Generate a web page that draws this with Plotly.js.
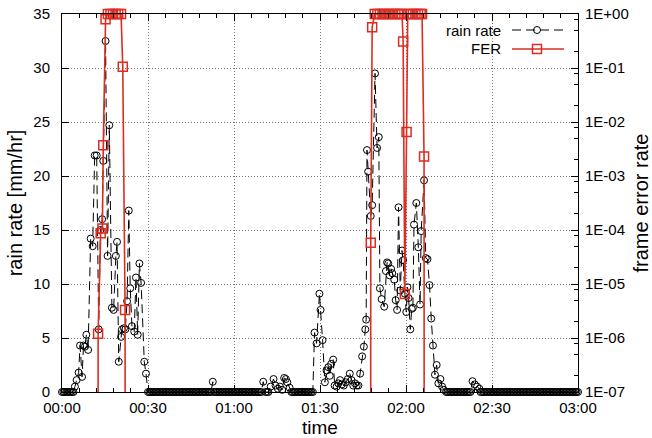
<!DOCTYPE html>
<html>
<head>
<meta charset="utf-8">
<script src="https://cdn.plot.ly/plotly-3.0.1.min.js"></script>
<style>html,body{margin:0;padding:0;background:#fff;}#chart{width:652px;height:438px;}</style>
</head>
<body>
<div id="chart"></div>
<script>
// ---- data (time in minutes after 00:00) ----
const rainTime = [
  0,0.5,1,1.5,2,2.5,3,3.5,4,
  4.5,5.1,5.8,6.3,7.0,7.5,8.0,8.5,9.1,10.0,
  10.7,11.4,12.1,12.8,13.4,14.0,14.4,15.2,15.9,16.5,
  17.4,18.0,18.8,19.2,19.8,20.6,20.9,21.6,22.1,22.7,
  23.3,23.8,24.4,25.2,25.8,26.4,27.0,27.6,28.7,29.3,
  30,30.5,31,31.5,32,32.5,33,33.5,34,34.5,
  35,35.5,36,36.5,37,37.5,38,38.5,39,39.5,
  40,40.5,41,41.5,42,42.5,43,43.5,44,44.5,
  45,45.5,46,46.5,47,47.5,48,48.5,49,49.5,
  50,50.5,51,51.5,52,52.6,
  53,53.5,54,54.5,55,55.5,56,56.5,57,57.5,
  58,58.5,59,59.5,60,60.5,61,61.5,62,62.5,
  63,63.5,64,64.5,65,65.5,66,66.5,67,67.5,
  68,68.5,69,69.5,70.2,71,71.5,72,
  72.8,73.8,74.5,75.3,76.0,76.8,77.5,78.1,78.6,79.4,
  80,80.5,81,81.5,82,82.5,83,83.5,84,84.5,
  85,85.5,86,86.5,87,87.5,
  88.1,88.8,89.8,90.2,90.9,91.7,92.3,92.9,93.4,93.9,
  94.6,95.1,95.8,96.4,97.0,97.6,98.3,99.0,99.7,100.4,
  101.0,101.6,102.2,102.8,
  103.4,104.0,104.7,105.3,105.8,106.1,106.4,106.8,107.7,108.2,
  109.2,109.9,110.5,110.9,111.5,112.4,113.0,113.4,113.8,114.3,
  114.8,115.2,115.9,116.4,116.9,117.4,118.0,118.6,119.0,119.6,
  120.1,120.5,120.9,121.5,122.0,122.4,122.8,123.6,124.3,124.9,
  125.3,126.3,126.9,127.5,128.2,128.8,129.4,130.1,130.7,131.3,
  132.0,132.6,133.2,
  134,134.5,135,135.5,136,136.5,137,137.5,138,138.5,
  139,139.5,140,140.5,141,141.5,142,142.5,
  143.2,144.0,144.8,145.6,
  146,146.5,147,147.5,148,148.5,149,149.5,150,150.5,
  151,151.5,152,152.5,153,153.5,154,154.5,155,155.5,
  156,156.5,157,157.5,158,158.5,159,159.5,160,160.5,
  161,161.5,162,162.5,163,163.5,164,164.5,165,165.5,
  166,166.5,167,167.5,168,168.5,169,169.5,170,170.5,
  171,171.5,172,172.5,173,173.5,174,174.5,175,175.5,
  176,176.5,177,177.5,178,178.5,179,179.5,180];
const rainRate = [
  0,0,0,0,0,0,0,0,0,
  0.5,1.1,1.8,4.3,1.4,4.3,4.2,5.3,3.9,14.2,
  13.5,21.9,21.9,5.8,15.0,16.0,21.4,32.5,12.6,24.7,
  7.8,7.6,12.6,13.9,2.8,5.1,5.8,5.9,5.8,8.4,
  16.8,9.6,6.1,5.6,10.6,5.3,11.9,10.1,2.8,1.7,
  0,0,0,0,0,0,0,0,0,0,
  0,0,0,0,0,0,0,0,0,0,
  0,0,0,0,0,0,0,0,0,0,
  0,0,0,0,0,0,0,0,0,0,
  0,0,0,0,0,0.95,
  0,0,0,0,0,0,0,0,0,0,
  0,0,0,0,0,0,0,0,0,0,
  0,0,0,0,0,0,0,0,0,0,
  0,0,0,0,0.95,0,0,0,
  0.5,1.2,0.6,0.3,0.5,0.2,1.3,1.2,0.9,0.4,
  0,0,0,0,0,0,0,0,0,0,
  0,0,0,0,0,0,
  5.5,4.5,9.1,7.6,4.8,0.9,2.0,2.3,1.5,2.6,
  3.0,0.6,0.5,0.8,1.1,0.7,0.6,0.9,1.2,1.7,
  1.1,0.6,0.8,0.6,
  0.6,1.7,3.3,4.2,5.8,6.7,22.4,20.4,16.3,17.3,
  29.5,22.6,23.6,9.6,8.6,7.9,11.2,12.0,11.9,10.8,
  11.4,11.0,10.4,8.5,7.6,17.1,9.4,13.1,12.2,9.1,
  7.4,9.7,8.7,5.8,7.7,7.8,15.5,17.5,13.4,8.1,
  14.9,19.6,12.4,12.3,9.9,6.8,4.3,1.6,2.5,0.8,
  1.2,0.5,0.2,
  0,0,0,0,0,0,0,0,0,0,
  0,0,0,0,0,0,0,0,
  1.0,0.7,0.5,0.3,
  0,0,0,0,0,0,0,0,0,0,
  0,0,0,0,0,0,0,0,0,0,
  0,0,0,0,0,0,0,0,0,0,
  0,0,0,0,0,0,0,0,0,0,
  0,0,0,0,0,0,0,0,0,0,
  0,0,0,0,0,0,0,0,0,0,
  0,0,0,0,0,0,0,0,0];

// frame error rate (0 = no errors, below the plotted range)
const ferTime = [0,12.5,12.6,13.5,14.1,14.4,15.2,16.0,16.9,17.8,18.7,19.6,20.6,21.2,22.0,22.3,
  107.6,107.7,108.2,109.1,110.0,110.9,111.8,112.7,113.6,114.5,115.4,116.3,117.2,118.1,118.6,
  119.0,119.6,120.2,120.6,121.5,122.4,123.3,124.2,125.1,125.6,126.3,126.5,180];
const ferValue = [0,0,1.2e-6,8.7e-5,1.07e-4,3.7e-3,0.8,1,1,1,1,1,1,0.105,3.3e-6,0,
  0,5.8e-5,0.57,1,1,1,1,1,1,1,1,1,1,1,1,
  0.31,6.5e-6,6.5e-3,1,1,1,1,1,1,1,2.3e-3,0,0];

const xTickVals = [0,30,60,90,120,150,180];
const xTickText = ['00:00','00:30','01:00','01:30','02:00','02:30','03:00'];
const ferTickVals = [1e-7,1e-6,1e-5,1e-4,1e-3,1e-2,1e-1,1];
const ferTickText = ['1E-07','1E-06','1E-05','1E-04','1E-03','1E-02','1E-01','1E+00'];

// ---- drawing ----
const FER_ZERO = 1e-30; // zero FER drawn below the log axis
const RED = '#dd2c22';
const ferMinor = [];
for (let e = -7; e < 0; e++) { [2,5,8].forEach(m => ferMinor.push(m * Math.pow(10, e))); }

const traces = [
  {x: rainTime, y: rainRate, type: 'scatter', mode: 'lines+markers', name: 'rain rate',
   cliponaxis: false,
   line: {color: 'black', width: 1, dash: '9px,5px'},
   marker: {symbol: 'circle-open', size: 7, color: 'black', line: {width: 1, color: 'black'}}},
  {x: ferTime, y: ferValue.map(v => v > 0 ? v : FER_ZERO), yaxis: 'y2', type: 'scatter',
   mode: 'lines+markers', name: 'FER', cliponaxis: false,
   line: {color: RED, width: 1.6},
   marker: {symbol: 'square-open', size: 9, color: RED, line: {width: 1.5, color: RED}}}
];

const FONT = 'Liberation Sans, Arial, sans-serif';
const legX0 = (512 - 62) / 516, legX1 = (564 - 62) / 516, legXm = (537 - 62) / 516;
const legY1 = (392 - 30) / 378, legY2 = (392 - 49) / 378, legTxt = (503 - 62) / 516;
const GRID = {showgrid: true, gridcolor: '#777', griddash: '1px,2px', gridwidth: 1};

const layout = {
  width: 652, height: 438,
  margin: {l: 62, r: 74, t: 14, b: 46, pad: 0},
  paper_bgcolor: 'white', plot_bgcolor: 'white',
  font: {family: FONT, size: 15, color: 'black'},
  showlegend: false,
  xaxis: Object.assign({range: [0, 180], tickmode: 'array', tickvals: xTickVals, ticktext: xTickText,
    ticks: 'inside', ticklen: 7, tickcolor: 'black', ticklabelstandoff: 2,
    showline: true, linecolor: 'black', linewidth: 1, mirror: 'ticks', zeroline: false,
    minor: {dtick: 6, tick0: 0, ticks: 'inside', ticklen: 4, tickcolor: 'black', showgrid: false},
    title: {text: 'time', font: {size: 19}, standoff: 7}}, GRID),
  yaxis: Object.assign({range: [0, 35], tick0: 0, dtick: 5, ticks: 'inside', ticklen: 7, tickcolor: 'black',
    ticklabelstandoff: 8,
    showline: true, linecolor: 'black', linewidth: 1, mirror: false, zeroline: false,
    title: {text: 'rain rate [mm/hr]', font: {size: 20}, standoff: 5}}, GRID),
  yaxis2: {type: 'log', range: [-7, 0], overlaying: 'y', side: 'right',
    tickmode: 'array', tickvals: ferTickVals, ticktext: ferTickText,
    ticks: 'inside', ticklen: 7, tickcolor: 'black', ticklabelstandoff: 3,
    showline: true, linecolor: 'black', linewidth: 1, showgrid: false, zeroline: false,
    minor: {tickmode: 'array', tickvals: ferMinor, ticks: 'inside', ticklen: 4, tickcolor: 'black', showgrid: false},
    title: {text: 'frame error rate', font: {size: 20}, standoff: 6}},
  shapes: [
    {type: 'rect', xref: 'paper', yref: 'paper', x0: (440 - 62) / 516, x1: 1, y0: (392 - 58) / 378, y1: 1,
     fillcolor: 'white', line: {width: 0}, layer: 'between'},
    {type: 'line', xref: 'paper', yref: 'paper', x0: legX0, x1: legX1, y0: legY1, y1: legY1,
     line: {color: 'black', width: 1, dash: '9px,5px'}},
    {type: 'circle', xref: 'paper', yref: 'paper', xsizemode: 'pixel', ysizemode: 'pixel',
     xanchor: legXm, yanchor: legY1, x0: -3.5, x1: 3.5, y0: -3.5, y1: 3.5,
     line: {color: 'black', width: 1}, fillcolor: 'rgba(0,0,0,0)'},
    {type: 'line', xref: 'paper', yref: 'paper', x0: legX0, x1: legX1, y0: legY2, y1: legY2,
     line: {color: RED, width: 1.6}},
    {type: 'rect', xref: 'paper', yref: 'paper', xsizemode: 'pixel', ysizemode: 'pixel',
     xanchor: legXm, yanchor: legY2, x0: -4.5, x1: 4.5, y0: -4.5, y1: 4.5,
     line: {color: RED, width: 1.5}, fillcolor: 'rgba(0,0,0,0)'}
  ],
  annotations: [
    {xref: 'paper', yref: 'paper', x: legTxt, y: legY1, xanchor: 'right', yanchor: 'middle',
     text: 'rain rate', showarrow: false, font: {size: 15}},
    {xref: 'paper', yref: 'paper', x: legTxt, y: legY2, xanchor: 'right', yanchor: 'middle',
     text: 'FER', showarrow: false, font: {size: 15}}
  ]
};

Plotly.newPlot('chart', traces, layout, {staticPlot: true, displayModeBar: false});
</script>
</body>
</html>
